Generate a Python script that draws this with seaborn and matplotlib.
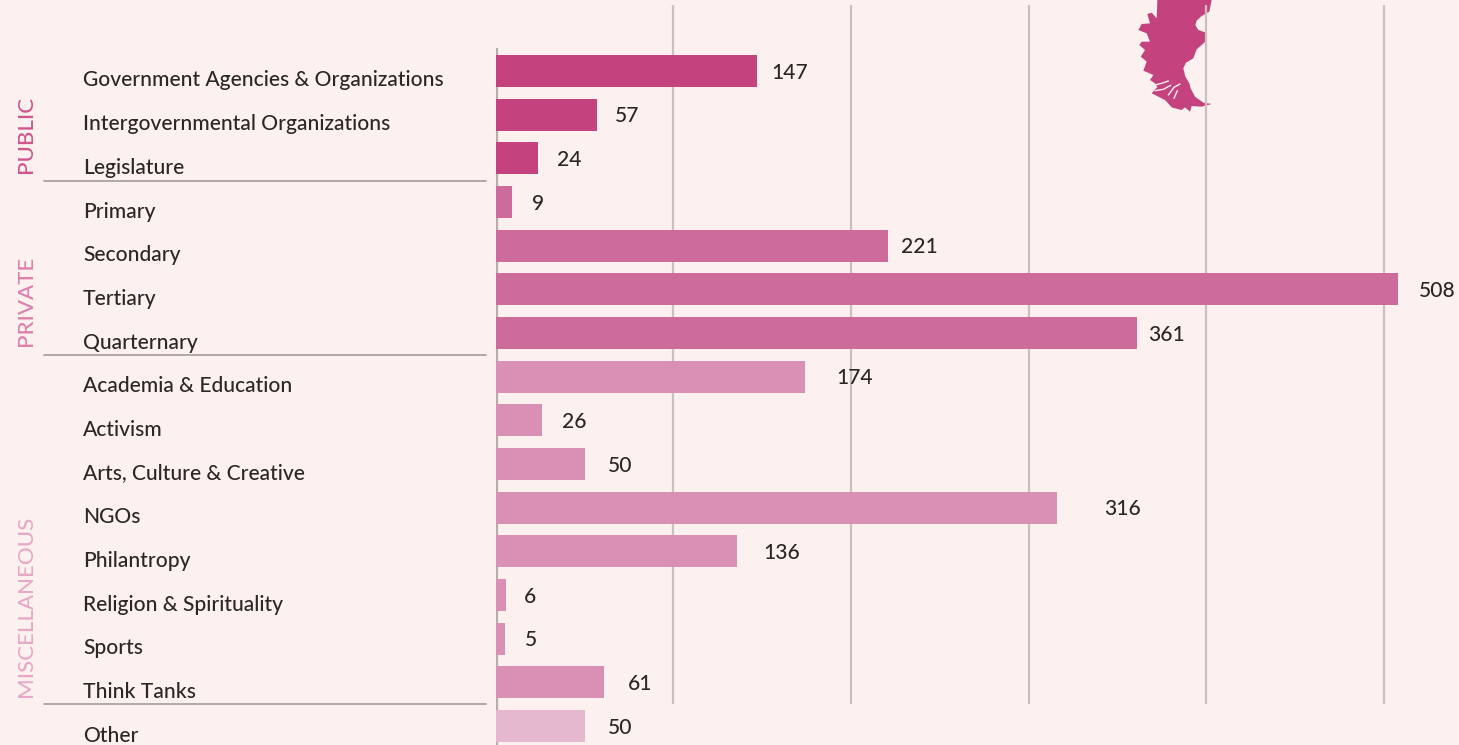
import pandas as pd
import matplotlib
matplotlib.use('Agg')
import matplotlib.pyplot as plt
from matplotlib.lines import Line2D
from matplotlib.patches import Polygon
import seaborn as sns

categories = ['Government Agencies & Organizations', 'Intergovernmental Organizations', 'Legislature',
              'Primary', 'Secondary', 'Tertiary', 'Quarternary',
              'Academia & Education', 'Activism', 'Arts, Culture & Creative', 'NGOs', 'Philantropy',
              'Religion & Spirituality', 'Sports', 'Think Tanks', 'Other']
values = [147, 57, 24, 9, 221, 508, 361, 174, 26, 50, 316, 136, 6, 5, 61, 50]
groups = ['PUBLIC'] * 3 + ['PRIVATE'] * 4 + ['MISCELLANEOUS'] * 8 + ['OTHER']
grid_ticks = [100, 200, 300, 400, 500]

# gap between bar end and the middle of its number, in pixels
label_gaps = [33, 30, 31, 26, 31, 39, 30, 50, 32, 36, 65, 44, 24, 26, 36, 36]

palette = {'PUBLIC': '#c4437f', 'PRIVATE': '#cd6c9a', 'MISCELLANEOUS': '#d990b4', 'OTHER': '#e6b8cf'}
group_text = [('PUBLIC', 173, '#d0558f'), ('PRIVATE', 346, '#e07fae'), ('MISCELLANEOUS', 697, '#e8a9c8')]
separators = [181, 354.5, 704]

# Patagonia outline, traced in pixels from the picture
outline = [(172, 0), (335, 0), (328, 35), (305, 48), (290, 62), (286, 75), (295, 90), (318, 98),
           (316, 125), (290, 148), (280, 175), (258, 188), (250, 205), (256, 230), (268, 250),
           (272, 265), (285, 290), (310, 308), (335, 312), (305, 320), (275, 318),
           (270, 335), (255, 322), (245, 330), (225, 325), (215, 322), (195, 300), (175, 290),
           (155, 280), (165, 268), (172, 262), (165, 250), (150, 240), (160, 225), (130, 212),
           (140, 185), (122, 170), (135, 150), (118, 135), (125, 125), (150, 125), (140, 100),
           (115, 90), (125, 72), (150, 70), (142, 42), (155, 38), (170, 55)]
channels = [[(160, 256), (185, 250), (205, 243)], [(165, 272), (190, 268), (212, 256)],
            [(205, 285), (222, 262), (240, 252)], [(222, 295), (232, 272)]]

W, H = 1459, 745
BG = '#fdf1ef'
INK = '#2b2727'
LINE = '#cbbfbf'
ROW = 43.67
ROW0 = 71
X0 = 495.8
PX_PER_UNIT = 1.776


def fx(px):
    return px / W


def fy(px):
    return 1 - px / H


def row_of(px):
    return (px - ROW0) / ROW


sns.set_theme(style='white')
plt.rcParams['font.family'] = ['Lato', 'DejaVu Sans']

df = pd.DataFrame({'category': categories, 'value': values, 'group': groups})

fig = plt.figure(figsize=(W / 100, H / 100), dpi=100, facecolor=BG)
ax = fig.add_axes([fx(X0), 0, 1 - fx(X0), 1], facecolor='none')

sns.barplot(data=df, x='value', y='category', hue='group', palette=palette, order=categories,
            dodge=False, width=0.733, saturation=1, legend=False, linewidth=0, ax=ax)
for bar in ax.patches:
    bar.set_zorder(3)

ax.set_xlim(0, (W - X0) / PX_PER_UNIT)
ax.set_ylim(row_of(H), row_of(0))
ax.set_xticks([])
ax.set_yticks([])
ax.set_xlabel('')
ax.set_ylabel('')
sns.despine(ax=ax, left=True, bottom=True)

ax.vlines(grid_ticks, row_of(5), row_of(704), color=LINE, lw=1.6, zorder=2)
ax.vlines(0.5, row_of(48), row_of(H), color='#b8adad', lw=1.6, zorder=2)

ax.add_patch(Polygon([(fx(1100 + x / 3), fy(y / 3)) for x, y in outline], closed=True,
                     transform=fig.transFigure, fc=palette['PUBLIC'], ec='none', clip_on=False, zorder=1))
for channel in channels:
    ax.add_line(Line2D([fx(1100 + x / 3) for x, y in channel], [fy(y / 3) for x, y in channel],
                       transform=fig.transFigure, color=BG, lw=1.0, zorder=1.5))

for i, (name, value, gap) in enumerate(zip(categories, values, label_gaps)):
    fig.text(fx(83), fy(ROW0 + ROW * i + 9.5), name, ha='left', va='center', fontsize=15.1,
             fontweight='medium', color=INK)
    ax.annotate(str(value), (value, i), xytext=(gap * 0.72, -1.2), textcoords='offset points',
                ha='center', va='center', fontsize=15.1, fontweight='medium', color=INK, zorder=4,
                annotation_clip=False)

for name, bottom, color in group_text:
    fig.text(fx(26), fy(bottom), name, rotation=90, ha='center', va='bottom', fontsize=16,
             fontweight='medium', color=color)

for y in separators:
    fig.add_artist(Line2D([fx(44), fx(486)], [fy(y), fy(y)], color='#ada2a2', lw=1.3))

fig.savefig('out.png', dpi=100, facecolor=BG)
